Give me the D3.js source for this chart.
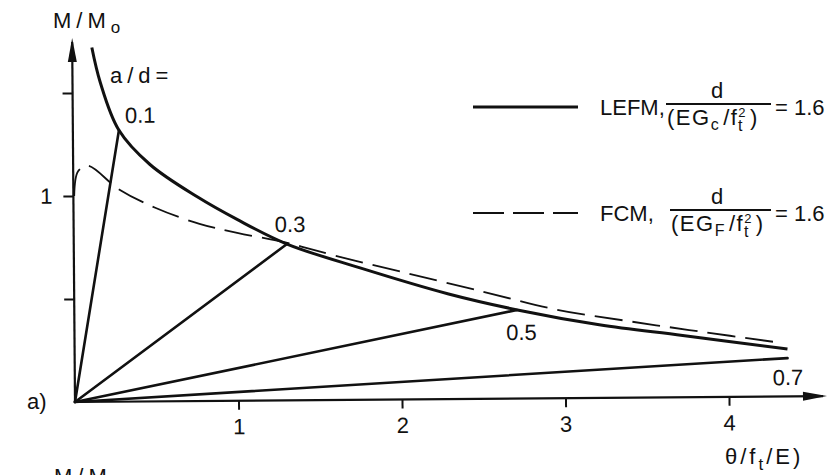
<!DOCTYPE html>
<html>
<head>
<meta charset="utf-8">
<script src="https://cdn.jsdelivr.net/npm/d3@7"></script>
<style>
  html, body { margin: 0; padding: 0; background: #fff; }
  svg { display: block; }
  text { font-family: "Liberation Sans", "DejaVu Sans", sans-serif; fill: #111; }
</style>
</head>
<body>
<svg id="chart" width="836" height="475"></svg>
<script>
// ---------- data ----------
const lefmX = [0.12, 0.17, 0.28, 0.47, 0.76, 1.0, 1.3, 1.75, 2.29, 2.71, 3.21, 3.72, 4.36];
const lefmY = [1.72, 1.55, 1.32, 1.15, 0.99, 0.88, 0.76, 0.64, 0.51, 0.43, 0.355, 0.30, 0.23];

const fcmX = [0.005, 0.03, 0.09, 0.28, 0.5, 0.77, 1.0, 1.3, 1.6, 2.0, 2.5, 2.95, 3.4, 3.76, 4.33];
const fcmY = [1.00, 1.12, 1.146, 1.03, 0.94, 0.86, 0.815, 0.765, 0.70, 0.62, 0.52, 0.43, 0.37, 0.326, 0.259];

const adLabels = ["0.1", "0.3", "0.5", "0.7"];
const rayEndX = [0.282, 1.304, 2.708, 4.36];
const rayEndY = [1.319, 0.759, 0.430, 0.186];

const xTicks = [1, 2, 3, 4];
const xTickLabels = ["1", "2", "3", "4"];
const yTicks = [0.5, 1, 1.5];
const yTickLabels = ["", "1", ""];

// ---------- layout ----------
const FS = 22;
const svg = d3.select("#chart");
const origin = [75, 402];
const x = d3.scaleLinear().domain([0, 1]).range([0, 163.5]);
const y = d3.scaleLinear().domain([0, 1]).range([0, -206]);

const g = svg.append("g")
  .attr("transform", `translate(${origin[0]},${origin[1]}) rotate(-0.45)`);

// axes with ticks
const xAxis = d3.axisBottom(x).tickValues(xTicks).tickSize(9).tickPadding(9)
  .tickFormat((d, i) => xTickLabels[i]);
const gx = g.append("g").call(xAxis);
gx.select(".domain").remove();
gx.selectAll("line").attr("stroke", "#111").attr("stroke-width", 2);
gx.selectAll("text").attr("font-size", FS).attr("fill", "#111").style("font-family", "Liberation Sans, sans-serif");

const yAxis = d3.axisLeft(y).tickValues(yTicks).tickSize(10).tickPadding(11)
  .tickFormat((d, i) => yTickLabels[i]);
const gy = g.append("g").call(yAxis);
gy.select(".domain").remove();
gy.selectAll("line").attr("stroke", "#111").attr("stroke-width", 2);
gy.selectAll("text").attr("font-size", FS).attr("fill", "#111").style("font-family", "Liberation Sans, sans-serif");

// axis lines + arrows
const xEnd = 752, yEnd = -364;
g.append("line").attr("x1", 0).attr("y1", 0).attr("x2", xEnd - 4).attr("y2", 0)
  .attr("stroke", "#111").attr("stroke-width", 2.2);
g.append("path").attr("d", `M${xEnd},0 L${xEnd - 24},-4.5 L${xEnd - 24},4.5 Z`).attr("fill", "#111");
g.append("line").attr("x1", 0).attr("y1", 0).attr("x2", 0).attr("y2", yEnd + 4)
  .attr("stroke", "#111").attr("stroke-width", 2.2);
g.append("path").attr("d", `M0,${yEnd} L-4.5,${yEnd + 24} L4.5,${yEnd + 24} Z`).attr("fill", "#111");

// curves
const line = d3.line().x(d => x(d[0])).y(d => y(d[1])).curve(d3.curveCatmullRom.alpha(0.5));
g.append("path").datum(lefmX.map((v, i) => [v, lefmY[i]]))
  .attr("d", line).attr("fill", "none").attr("stroke", "#111").attr("stroke-width", 3);
g.append("path").datum(fcmX.map((v, i) => [v, fcmY[i]]))
  .attr("d", line).attr("fill", "none").attr("stroke", "#111").attr("stroke-width", 1.8)
  .attr("stroke-dasharray", "28,10");

// rays from origin
adLabels.forEach((lab, i) => {
  g.append("line").attr("x1", x(0)).attr("y1", y(0))
    .attr("x2", x(rayEndX[i])).attr("y2", y(rayEndY[i]))
    .attr("stroke", "#111").attr("stroke-width", 2.6).attr("stroke-linecap", "round");
});
const labOff = [[6, -7], [-12, -12], [-11, 30], [-15, 27]];
adLabels.forEach((lab, i) => {
  g.append("text").attr("x", x(rayEndX[i]) + labOff[i][0]).attr("y", y(rayEndY[i]) + labOff[i][1])
    .attr("font-size", FS).text(lab);
});

// ---------- free text ----------
const t1 = svg.append("text").attr("x", 53).attr("y", 28).attr("font-size", FS).attr("letter-spacing", 5);
t1.append("tspan").text("M/M");
t1.append("tspan").attr("dy", 5).attr("font-size", 17).text("o");

svg.append("text").attr("x", 110).attr("y", 83).attr("font-size", FS).attr("letter-spacing", 5).text("a/d=");

svg.append("text").attr("x", 27).attr("y", 409).attr("font-size", FS).text("a)");

const tx = svg.append("text").attr("x", 725).attr("y", 464).attr("font-size", FS).attr("letter-spacing", 3);
tx.append("tspan").text("θ/f");
tx.append("tspan").attr("dy", 6).attr("font-size", 17).text("t");
tx.append("tspan").attr("dy", -6).text("/E)");

const tb = svg.append("text").attr("x", 54).attr("y", 484).attr("font-size", FS).attr("letter-spacing", 5);
tb.append("tspan").text("M/M");
tb.append("tspan").attr("dy", 5).attr("font-size", 17).text("o");

// ---------- legend ----------
const legendRows = [
  { y0: 107, dash: null, name: "LEFM,", sub: "c", barX: 666 },
  { y0: 213, dash: "31,9", name: "FCM,", sub: "F", barX: 670 }
];
legendRows.forEach(r => {
  const l = svg.append("line").attr("x1", 473).attr("x2", 578).attr("y1", r.y0).attr("y2", r.y0)
    .attr("stroke", "#111").attr("stroke-width", r.dash ? 2 : 3);
  if (r.dash) l.attr("stroke-dasharray", r.dash);
  svg.append("text").attr("x", 600).attr("y", r.y0 + 8).attr("font-size", FS).text(r.name);
  // fraction
  svg.append("text").attr("x", 717).attr("y", r.y0 - 9).attr("font-size", FS).attr("text-anchor", "middle").text("d");
  svg.append("line").attr("x1", r.barX).attr("x2", 771).attr("y1", r.y0 - 3).attr("y2", r.y0 - 3)
    .attr("stroke", "#111").attr("stroke-width", 1.8);
  const den = svg.append("text").attr("x", r.barX + 1).attr("y", r.y0 + 18).attr("font-size", FS)
    .attr("letter-spacing", 1.5);
  den.append("tspan").text("(EG");
  den.append("tspan").attr("dy", 5).attr("font-size", 16).text(r.sub);
  den.append("tspan").attr("dx", 3).attr("dy", -5).text("/f");
  den.append("tspan").attr("dy", -8).attr("font-size", 13).text("2");
  den.append("tspan").attr("dx", -9).attr("dy", 14).attr("font-size", 16).text("t");
  den.append("tspan").attr("dx", 6).attr("dy", -6).text(")");
  svg.append("text").attr("x", 775).attr("y", r.y0 + 8).attr("font-size", FS).text("= 1.6");
});
</script>
</body>
</html>
